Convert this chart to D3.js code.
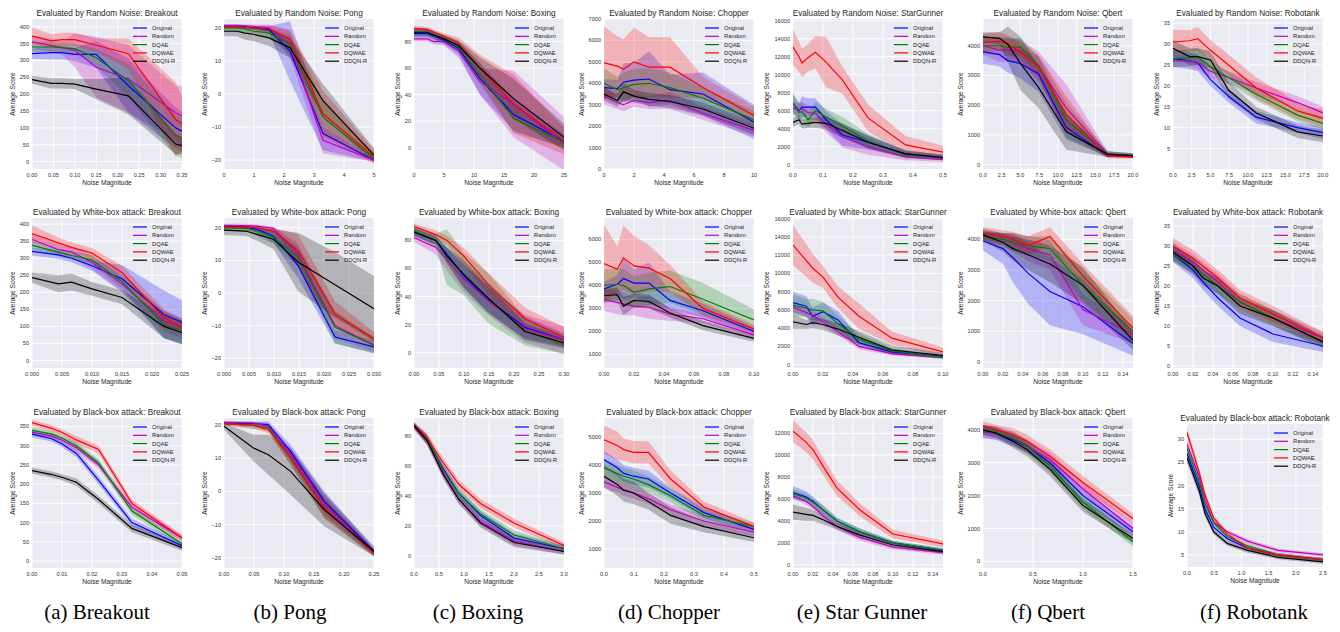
<!DOCTYPE html>
<html>
<head>
<meta charset="utf-8">
<script src="https://cdn.jsdelivr.net/npm/d3@7/dist/d3.min.js"></script>
<style>
  body { margin: 0; background: #fff; }
  svg { display: block; }
  text { font-family: "Liberation Sans", Arial, sans-serif; }
</style>
</head>
<body>
<svg id="chart" width="1340" height="632"></svg>
<script>
// series + labels
const seriesNames = ["Original", "Random", "DQAE", "DQWAE", "DDQN-R"];
const seriesColors = ["#0000ff", "#bf00bf", "#008000", "#ff0000", "#000000"];
const games = ["Breakout", "Pong", "Boxing", "Chopper", "StarGunner", "Qbert", "Robotank"];
const captions = ["(a) Breakout", "(b) Pong", "(c) Boxing", "(d) Chopper", "(e) Star Gunner", "(f) Qbert", "(f) Robotank"];
const attacks = ["Random Noise", "White-box attack", "Black-box attack"];

// ---- tick labels ----
const xTicksNoise = [
  ["0.00", "0.05", "0.10", "0.15", "0.20", "0.25", "0.30", "0.35"],
  ["0", "1", "2", "3", "4", "5"],
  ["0", "5", "10", "15", "20", "25"],
  ["0", "2", "4", "6", "8", "10"],
  ["0.0", "0.1", "0.2", "0.3", "0.4", "0.5"],
  ["0.0", "2.5", "5.0", "7.5", "10.0", "12.5", "15.0", "17.5", "20.0"],
  ["0.0", "2.5", "5.0", "7.5", "10.0", "12.5", "15.0", "17.5", "20.0"]
];
const yTicksNoise = [
  ["0", "50", "100", "150", "200", "250", "300", "350", "400"],
  ["-20", "-10", "0", "10", "20"],
  ["0", "20", "40", "60", "80"],
  ["0", "1000", "2000", "3000", "4000", "5000", "6000", "7000"],
  ["0", "2000", "4000", "6000", "8000", "10000", "12000", "14000", "16000"],
  ["0", "1000", "2000", "3000", "4000"],
  ["5", "10", "15", "20", "25", "30", "35"]
];
const xTicksWhite = [
  ["0.000", "0.005", "0.010", "0.015", "0.020", "0.025"],
  ["0.000", "0.005", "0.010", "0.015", "0.020", "0.025", "0.030"],
  ["0.00", "0.05", "0.10", "0.15", "0.20", "0.25", "0.30"],
  ["0.00", "0.02", "0.04", "0.06", "0.08", "0.10"],
  ["0.00", "0.02", "0.04", "0.06", "0.08", "0.10"],
  ["0.00", "0.02", "0.04", "0.06", "0.08", "0.10", "0.12", "0.14"],
  ["0.00", "0.02", "0.04", "0.06", "0.08", "0.10", "0.12", "0.14"]
];
const yTicksWhite = [
  ["0", "50", "100", "150", "200", "250", "300", "350", "400"],
  ["-20", "-10", "0", "10", "20"],
  ["0", "20", "40", "60", "80"],
  ["1000", "2000", "3000", "4000", "5000", "6000"],
  ["0", "2000", "4000", "6000", "8000", "10000", "12000", "14000", "16000"],
  ["0", "1000", "2000", "3000", "4000"],
  ["0", "5", "10", "15", "20", "25", "30", "35"]
];
const xTicksBlack = [
  ["0.00", "0.01", "0.02", "0.03", "0.04", "0.05"],
  ["0.00", "0.05", "0.10", "0.15", "0.20", "0.25"],
  ["0.0", "0.5", "1.0", "1.5", "2.0", "2.5", "3.0"],
  ["0.0", "0.1", "0.2", "0.3", "0.4", "0.5"],
  ["0.00", "0.02", "0.04", "0.06", "0.08", "0.10", "0.12", "0.14"],
  ["0.0", "0.5", "1.0", "1.5"],
  ["0.0", "0.5", "1.0", "1.5", "2.0", "2.5"]
];
const yTicksBlack = [
  ["0", "50", "100", "150", "200", "250", "300", "350"],
  ["-20", "-10", "0", "10", "20"],
  ["0", "20", "40", "60", "80"],
  ["1000", "2000", "3000", "4000", "5000"],
  ["0", "2000", "4000", "6000", "8000", "10000", "12000"],
  ["0", "1000", "2000", "3000", "4000"],
  ["5", "10", "15", "20", "25", "30"]
];

// ---- row 1: random noise ----  (series order: Original, Random, DQAE, DQWAE, DDQN-R)
const breakoutNoiseX = [0, 0.045, 0.07, 0.10, 0.15, 0.225, 0.335, 0.35];
const breakoutNoiseMean = [
  [320, 323, 323, 318, 318, 225, 100, 90],
  [355, 345, 338, 330, 280, 245, 145, 135],
  [340, 340, 338, 335, 308, 240, 78, 70],
  [372, 358, 362, 362, 345, 320, 125, 112],
  [243, 232, 232, 230, 215, 195, 52, 47]
];
const breakoutNoiseSd = [
  [15, 20, 20, 20, 40, 80, 60, 60],
  [20, 20, 20, 50, 90, 100, 80, 90],
  [15, 15, 15, 15, 25, 50, 60, 60],
  [25, 20, 20, 20, 20, 45, 110, 80],
  [12, 15, 15, 15, 30, 55, 30, 25]
];
const pongNoiseX = [0, 0.44, 0.66, 1.0, 1.5, 2.2, 3.3, 5];
const pongNoiseMean = [
  [20.5, 20.5, 20.4, 20, 19.5, 13, -12, -20],
  [20.7, 20.7, 20.6, 20.5, 20, 15, -14, -20],
  [20, 20, 19.8, 19, 18.5, 15, -7, -19.5],
  [20.3, 20.3, 20.2, 20, 19.8, 16.5, -6, -19],
  [19, 19, 18.5, 18, 17, 14, -2, -18.5]
];
const pongNoiseSd = [
  [0.5, 0.5, 0.5, 0.5, 1, 9, 5, 0.5],
  [0.5, 0.5, 0.5, 0.5, 1, 4, 4, 0.5],
  [1, 1, 1, 1, 1.5, 3, 5, 1],
  [0.5, 0.5, 0.5, 0.5, 1, 3, 7, 2],
  [1.5, 1.5, 2, 2, 2.5, 3, 5, 2]
];
const boxingNoiseX = [0, 2.2, 3.3, 5, 7.4, 11, 16.6, 25];
const boxingNoiseMean = [
  [86, 86, 84, 81, 75, 52, 25, 5],
  [82, 82, 80, 80, 73, 50, 33, 3],
  [87, 87, 85, 82, 76, 55, 22, 4],
  [90, 89, 87, 84, 79, 60, 33, 5],
  [87, 87, 85, 82, 77, 60, 37, 8]
];
const boxingNoiseSd = [
  [3, 3, 3, 3, 5, 12, 12, 5],
  [2, 2, 2, 3, 5, 10, 25, 20],
  [3, 3, 3, 3, 4, 8, 10, 4],
  [2, 2, 2, 2, 4, 10, 22, 10],
  [3, 3, 3, 3, 4, 8, 15, 10]
];
const chopperNoiseX = [0, 0.9, 1.3, 2, 3, 4.4, 6.6, 10];
const chopperNoiseMean = [
  [3800, 3750, 4050, 4150, 4200, 3700, 3500, 2200],
  [3400, 3100, 3000, 3200, 3100, 3200, 2600, 1800],
  [4000, 3700, 3800, 3950, 4000, 3800, 3300, 2300],
  [4950, 4800, 4650, 5000, 4750, 4750, 3800, 2500],
  [3500, 3200, 3600, 3400, 3250, 3150, 2800, 1900]
];
const chopperNoiseSd = [
  [400, 400, 900, 800, 1300, 700, 1000, 800],
  [400, 300, 300, 300, 300, 400, 300, 300],
  [700, 600, 700, 700, 700, 700, 500, 400],
  [1700, 1400, 1400, 1600, 1400, 1400, 500, 400],
  [300, 300, 400, 300, 300, 300, 300, 300]
];
const starNoiseX = [0, 0.02, 0.03, 0.05, 0.075, 0.11, 0.165, 0.25, 0.375, 0.5];
const starNoiseMean = [
  [6800, 6000, 6400, 6400, 6400, 5000, 3300, 2500, 1200, 800],
  [6300, 6100, 6200, 5800, 5700, 4500, 3100, 2000, 900, 600],
  [6800, 5800, 5900, 5000, 6000, 5300, 4300, 2600, 1100, 800],
  [13100, 12000, 11300, 11900, 12500, 11400, 9400, 5200, 2200, 1400],
  [4700, 5000, 4500, 4600, 4700, 4600, 3800, 2500, 1200, 800]
];
const starNoiseSd = [
  [1000, 900, 1200, 1000, 1000, 1000, 1200, 800, 400, 300],
  [700, 700, 800, 800, 800, 900, 1200, 900, 400, 300],
  [1200, 1000, 1000, 900, 1000, 900, 1000, 800, 400, 300],
  [2000, 1700, 1600, 1500, 1800, 2800, 1500, 1500, 1000, 700],
  [500, 500, 500, 500, 600, 700, 800, 700, 400, 300]
];
const qbertNoiseX = [0, 2.2, 3.3, 5, 7.4, 11.1, 16.6, 20];
const qbertNoiseMean = [
  [3800, 3700, 3500, 3400, 3050, 1250, 300, 300],
  [4000, 3850, 3850, 3800, 3300, 1900, 350, 300],
  [4000, 4000, 3950, 3950, 3350, 1500, 350, 300],
  [4100, 4150, 4050, 3800, 3300, 1700, 300, 250],
  [4300, 4250, 4050, 3400, 2600, 1100, 350, 300]
];
const qbertNoiseSd = [
  [400, 400, 400, 500, 600, 400, 50, 50],
  [300, 400, 400, 400, 500, 800, 100, 80],
  [300, 300, 300, 300, 300, 600, 100, 80],
  [300, 300, 300, 300, 400, 600, 100, 50],
  [150, 200, 600, 900, 700, 600, 100, 80]
];
const robotankNoiseX = [0, 2.2, 3.3, 5, 7.4, 11.1, 16.6, 20];
const robotankNoiseMean = [
  [26.5, 26, 25.5, 21.5, 17.5, 12.5, 10, 8.8],
  [26, 26, 25.5, 23.5, 22, 19.5, 16, 13.5],
  [26.5, 26.7, 27, 24.5, 22, 18, 13, 11],
  [30.5, 30.8, 31.3, 28.5, 25, 19.5, 14, 12.2],
  [29, 27, 27, 26.2, 19, 13.5, 9, 8]
];
const robotankNoiseSd = [
  [2, 2, 2, 1.5, 1.5, 1.5, 1.2, 1.5],
  [1.5, 1.5, 1.5, 1.5, 1.5, 1.5, 1.5, 1.5],
  [2, 2, 2, 1.5, 1.5, 1.5, 1.5, 1.5],
  [3, 2.5, 2.8, 2.5, 2.5, 2.5, 2, 2],
  [2, 2, 2, 2, 2, 1.5, 1.5, 1.5]
];

// ---- row 2: white-box attack ----
const breakoutWhiteX = [0, 0.0044, 0.0066, 0.01, 0.015, 0.022, 0.025];
const breakoutWhiteMean = [
  [320, 310, 300, 278, 240, 135, 112],
  [355, 325, 318, 288, 225, 115, 95],
  [338, 318, 308, 295, 232, 105, 88],
  [372, 345, 332, 315, 258, 125, 98],
  [243, 225, 230, 210, 185, 100, 82]
];
const breakoutWhiteSd = [
  [12, 12, 12, 15, 40, 70, 65],
  [15, 15, 15, 20, 20, 30, 30],
  [12, 12, 12, 15, 20, 40, 35],
  [25, 15, 15, 15, 20, 25, 20],
  [15, 25, 25, 20, 20, 35, 35]
];
const pongWhiteX = [0, 0.0044, 0.0066, 0.0099, 0.0148, 0.0222, 0.03];
const pongWhiteMean = [
  [20.5, 20.3, 19.5, 17.5, 8.5, -13.5, -16.5],
  [20.7, 20.7, 20.5, 19.8, 12, -10, -16],
  [20, 19.8, 19, 17, 11, -10.5, -16],
  [20.3, 20.2, 20, 19, 13, -6.5, -14],
  [19.3, 19, 18, 16.5, 9.5, 2.5, -4.8]
];
const pongWhiteSd = [
  [0.5, 0.5, 1, 2, 4, 2, 2],
  [0.5, 0.5, 0.5, 0.5, 3, 4, 2],
  [1, 1, 1.5, 2, 3, 5, 2.5],
  [0.5, 0.5, 0.5, 1, 5, 4, 2],
  [1.5, 1.5, 2, 3, 9, 10, 10]
];
const boxingWhiteX = [0, 0.044, 0.066, 0.099, 0.148, 0.222, 0.3];
const boxingWhiteMean = [
  [86, 80, 70, 55, 38, 18, 9],
  [82, 75, 66, 53, 37, 17, 9],
  [87, 80, 68, 56, 39, 15, 6],
  [90, 84, 80, 69, 49, 24, 11],
  [86, 80, 69, 56, 39, 15, 7]
];
const boxingWhiteSd = [
  [3, 3, 5, 8, 10, 8, 5],
  [3, 5, 8, 10, 10, 10, 10],
  [3, 5, 20, 15, 18, 10, 7],
  [2, 3, 3, 6, 8, 8, 7],
  [3, 3, 6, 10, 10, 6, 4]
];
const chopperWhiteX = [0, 0.0089, 0.013, 0.02, 0.03, 0.044, 0.066, 0.1];
const chopperWhiteMean = [
  [3850, 4050, 4300, 4100, 4100, 3350, 2900, 2000],
  [3400, 3250, 3200, 3100, 3050, 2750, 2550, 1850],
  [4000, 4050, 4000, 3700, 3850, 3950, 3400, 2500],
  [4950, 4700, 5200, 4850, 4750, 4300, 3000, 2100],
  [3550, 3600, 3100, 3350, 3300, 2800, 2250, 1700]
];
const chopperWhiteSd = [
  [300, 400, 900, 600, 900, 400, 300, 200],
  [500, 500, 500, 400, 500, 300, 200, 150],
  [700, 700, 700, 700, 700, 700, 700, 450],
  [1700, 1000, 1400, 1300, 1000, 600, 300, 200],
  [300, 300, 400, 300, 300, 200, 200, 150]
];
const starWhiteX = [0, 0.0089, 0.013, 0.02, 0.03, 0.044, 0.066, 0.1];
const starWhiteMean = [
  [6800, 6400, 5300, 5800, 4900, 2400, 1400, 900],
  [6300, 5700, 5400, 4700, 3600, 2000, 1200, 800],
  [6500, 6200, 6000, 5900, 4500, 2800, 1500, 800],
  [13100, 11400, 10600, 9600, 7400, 5300, 2900, 1400],
  [4700, 4400, 4600, 4400, 3900, 3000, 1600, 1000]
];
const starWhiteSd = [
  [1200, 1100, 1000, 1000, 1000, 500, 300, 200],
  [500, 500, 500, 500, 400, 300, 200, 150],
  [1200, 1000, 1200, 1000, 900, 600, 300, 200],
  [2200, 1800, 1600, 1200, 1200, 1400, 700, 500],
  [800, 500, 600, 600, 700, 700, 500, 300]
];
const qbertWhiteX = [0, 0.02, 0.03, 0.045, 0.067, 0.1, 0.15];
const qbertWhiteMean = [
  [3950, 3700, 3400, 2900, 2300, 1800, 600],
  [4100, 4000, 3900, 3700, 3500, 1700, 900],
  [4100, 4000, 3900, 3800, 3700, 2500, 1000],
  [4200, 4100, 4000, 3800, 4100, 2800, 1100],
  [4150, 3900, 3700, 3500, 3200, 2500, 700]
];
const qbertWhiteSd = [
  [300, 500, 800, 1000, 1100, 900, 400],
  [200, 200, 300, 400, 500, 500, 300],
  [150, 200, 300, 300, 400, 500, 400],
  [200, 200, 250, 300, 300, 400, 400],
  [200, 300, 400, 500, 600, 600, 300]
];
const robotankWhiteX = [0, 0.02, 0.03, 0.045, 0.067, 0.1, 0.15];
const robotankWhiteMean = [
  [28, 24, 21, 17, 12, 8, 5],
  [29, 26, 24, 21, 16, 12, 7],
  [28, 25, 23, 20, 16, 12, 6],
  [30, 27, 25, 22, 17, 13, 7],
  [28.5, 25, 22, 20, 15, 12, 6]
];
const robotankWhiteSd = [
  [2, 2, 2, 2, 2, 2, 1.5],
  [2, 2, 2, 2, 2, 2, 1.5],
  [2, 2, 2, 2, 2, 2, 1.5],
  [2, 2, 2, 2, 2, 2, 1.5],
  [2, 2, 2, 2, 2, 2, 1.5]
];

// ---- row 3: black-box attack ----
const breakoutBlackX = [0, 0.0066, 0.0099, 0.0148, 0.0222, 0.0333, 0.05];
const breakoutBlackMean = [
  [330, 318, 305, 280, 210, 100, 40],
  [335, 325, 315, 295, 250, 140, 60],
  [340, 330, 320, 300, 255, 130, 45],
  [360, 345, 335, 315, 290, 150, 60],
  [235, 225, 218, 205, 160, 85, 35]
];
const breakoutBlackSd = [
  [8, 8, 8, 10, 10, 10, 8],
  [8, 8, 8, 10, 10, 10, 8],
  [8, 8, 8, 10, 10, 10, 8],
  [8, 8, 8, 10, 10, 10, 8],
  [8, 8, 8, 10, 10, 10, 8]
];
const pongBlackX = [0, 0.049, 0.074, 0.111, 0.167, 0.25];
const pongBlackMean = [
  [20.5, 20.3, 20, 12, -3, -18],
  [20.7, 20.5, 19.5, 11, -4, -18.5],
  [20.3, 19.8, 19, 10, -5, -18.5],
  [20.3, 19.8, 18.5, 10, -5, -18.5],
  [19.5, 13, 11, 6, -5.5, -18]
];
const pongBlackSd = [
  [0.5, 0.5, 1, 2, 3, 1],
  [0.5, 0.5, 1, 2, 3, 1],
  [0.5, 1, 1, 2, 3, 1],
  [0.5, 1, 1, 2, 3, 1],
  [1, 4, 6, 7, 5, 1.5]
];
const boxingBlackX = [0, 0.26, 0.39, 0.59, 0.89, 1.33, 2, 3];
const boxingBlackMean = [
  [87, 78, 70, 58, 42, 27, 12, 5],
  [86, 77, 68, 55, 38, 23, 10, 3],
  [87, 78, 70, 57, 42, 28, 14, 5],
  [87, 79, 72, 62, 48, 35, 22, 7],
  [87, 77, 68, 54, 38, 22, 9, 3]
];
const boxingBlackSd = [
  [2, 3, 3, 3, 3, 3, 3, 2],
  [2, 3, 3, 3, 3, 3, 3, 2],
  [2, 3, 3, 3, 3, 3, 3, 2],
  [2, 3, 3, 3, 3, 3, 3, 2],
  [2, 3, 3, 3, 3, 3, 3, 2]
];
const chopperBlackX = [0, 0.044, 0.066, 0.099, 0.148, 0.222, 0.333, 0.5];
const chopperBlackMean = [
  [4200, 3900, 3700, 3600, 3500, 3000, 2300, 1700],
  [3400, 3200, 3100, 3000, 2800, 2400, 2000, 1600],
  [3900, 3700, 3600, 3500, 3300, 2900, 2200, 1800],
  [4900, 4700, 4550, 4450, 4450, 3500, 2500, 1800],
  [3600, 3300, 3100, 3000, 2700, 2200, 1800, 1400]
];
const chopperBlackSd = [
  [300, 300, 300, 300, 300, 200, 200, 150],
  [200, 200, 200, 200, 200, 200, 200, 150],
  [300, 300, 300, 300, 300, 250, 200, 150],
  [500, 500, 400, 400, 400, 300, 200, 150],
  [400, 400, 400, 400, 300, 300, 200, 150]
];
const starBlackX = [0, 0.013, 0.02, 0.03, 0.044, 0.067, 0.1, 0.15];
const starBlackMean = [
  [6600, 6200, 5800, 5000, 4000, 3000, 2000, 1300],
  [6300, 5800, 5300, 4500, 3500, 2500, 1600, 1100],
  [6500, 6100, 5700, 5000, 4000, 3000, 2000, 1300],
  [12200, 11200, 10500, 9000, 7000, 5000, 2800, 1900],
  [4800, 4600, 4500, 4100, 3500, 2700, 1800, 1200]
];
const starBlackSd = [
  [600, 500, 400, 400, 300, 300, 200, 200],
  [300, 300, 300, 300, 300, 300, 200, 200],
  [400, 400, 400, 400, 300, 300, 200, 200],
  [1000, 900, 900, 800, 700, 600, 400, 300],
  [700, 600, 500, 400, 300, 300, 200, 200]
];
const qbertBlackX = [0, 0.13, 0.2, 0.3, 0.44, 0.67, 1.0, 1.5];
const qbertBlackMean = [
  [3950, 3900, 3800, 3700, 3500, 3000, 2000, 900],
  [3950, 3900, 3850, 3750, 3500, 3100, 2200, 1000],
  [4000, 3950, 3850, 3750, 3500, 2900, 1800, 600],
  [4100, 4000, 3950, 3850, 3650, 3200, 2400, 1300],
  [4000, 3900, 3800, 3650, 3400, 2800, 1700, 700]
];
const qbertBlackSd = [
  [200, 200, 200, 200, 200, 200, 200, 150],
  [200, 200, 200, 200, 200, 200, 200, 150],
  [150, 150, 150, 200, 200, 200, 200, 150],
  [150, 150, 150, 200, 200, 200, 200, 150],
  [150, 150, 150, 200, 200, 200, 200, 150]
];
const robotankBlackX = [0, 0.22, 0.33, 0.49, 0.74, 1.11, 1.67, 2.5];
const robotankBlackMean = [
  [27, 20, 15, 11, 8.5, 6.5, 5, 4],
  [29, 22, 17, 12, 10, 8, 6, 5],
  [28, 21, 16, 12, 9, 7, 5, 4],
  [31.5, 23, 18, 13, 9.5, 6.5, 5, 4],
  [26, 19, 14, 10, 7.5, 6, 4.5, 3.5]
];
const robotankBlackSd = [
  [1, 1, 0.8, 0.6, 0.5, 0.5, 0.4, 0.4],
  [1, 1, 0.8, 0.6, 0.5, 0.5, 0.4, 0.4],
  [1, 1, 0.8, 0.6, 0.5, 0.5, 0.4, 0.4],
  [1, 1, 0.8, 0.6, 0.5, 0.5, 0.4, 0.4],
  [1, 1, 0.8, 0.6, 0.5, 0.5, 0.4, 0.4]
];

// ---- panel table (row, col, data, axis ranges) ----
const panels = [
  [0, 0, breakoutNoiseX, breakoutNoiseMean, breakoutNoiseSd, [0, 0.35], [-22, 423]],
  [0, 1, pongNoiseX, pongNoiseMean, pongNoiseSd, [0, 5], [-22.7, 22.7]],
  [0, 2, boxingNoiseX, boxingNoiseMean, boxingNoiseSd, [0, 25], [-16, 97]],
  [0, 3, chopperNoiseX, chopperNoiseMean, chopperNoiseSd, [0, 10], [0, 7000]],
  [0, 4, starNoiseX, starNoiseMean, starNoiseSd, [0, 0.5], [-480, 16200]],
  [0, 5, qbertNoiseX, qbertNoiseMean, qbertNoiseSd, [0, 20], [-150, 4900]],
  [0, 6, robotankNoiseX, robotankNoiseMean, robotankNoiseSd, [0, 20], [0.1, 36]],
  [1, 0, breakoutWhiteX, breakoutWhiteMean, breakoutWhiteSd, [0, 0.025], [-22, 418]],
  [1, 1, pongWhiteX, pongWhiteMean, pongWhiteSd, [0, 0.03], [-23, 23]],
  [1, 2, boxingWhiteX, boxingWhiteMean, boxingWhiteSd, [0, 0.3], [-11, 96]],
  [1, 3, chopperWhiteX, chopperWhiteMean, chopperWhiteSd, [0, 0.1], [410, 6930]],
  [1, 4, starWhiteX, starWhiteMean, starWhiteSd, [0, 0.1], [-370, 16080]],
  [1, 5, qbertWhiteX, qbertWhiteMean, qbertWhiteSd, [0, 0.15], [-200, 4700]],
  [1, 6, robotankWhiteX, robotankWhiteMean, robotankWhiteSd, [0, 0.15], [-0.5, 37]],
  [2, 0, breakoutBlackX, breakoutBlackMean, breakoutBlackSd, [0, 0.05], [-18, 372]],
  [2, 1, pongBlackX, pongBlackMean, pongBlackSd, [0, 0.25], [-23, 22]],
  [2, 2, boxingBlackX, boxingBlackMean, boxingBlackSd, [0, 3], [-8, 92]],
  [2, 3, chopperBlackX, chopperBlackMean, chopperBlackSd, [0, 0.5], [320, 5680]],
  [2, 4, starBlackX, starBlackMean, starBlackSd, [0, 0.15], [-300, 13400]],
  [2, 5, qbertBlackX, qbertBlackMean, qbertBlackSd, [0, 1.5], [-200, 4360]],
  [2, 6, robotankBlackX, robotankBlackMean, robotankBlackSd, [0, 2.5], [2.4, 33.3]]
];
const xTickRows = [xTicksNoise, xTicksWhite, xTicksBlack];
const yTickRows = [yTicksNoise, yTicksWhite, yTicksBlack];

// layout
const colX = [32, 224, 414, 604, 793, 983, 1173];
const rowY = [19, 218, 418];
const capX = [97, 290, 478, 669, 862, 1048, 1254];

const svg = d3.select("#chart");
const minus = s => s.replace("-", "\u2212");

panels.forEach(([row, col, xs, means, sds, xDom, yDom], k) => {
  // the last black-box panel sits a little lower and narrower in the source figure
  const odd = row === 2 && col === 6;
  const W = odd ? 136 : 150, H = odd ? 143 : 150;
  const left = odd ? 1187 : colX[col], top = odd ? 424 : rowY[row];

  const g = svg.append("g").attr("transform", `translate(${left},${top})`);
  const x = d3.scaleLinear().domain(xDom).range([0, W]);
  const y = d3.scaleLinear().domain(yDom).range([H, 0]);
  const xt = xTickRows[row][col], yt = yTickRows[row][col];

  g.append("rect").attr("width", W).attr("height", H).attr("fill", "#eaeaf2");

  // white grid
  g.selectAll("line.gx").data(xt).join("line").attr("class", "gx")
    .attr("x1", d => x(+d)).attr("x2", d => x(+d)).attr("y1", 0).attr("y2", H)
    .attr("stroke", "#fff").attr("stroke-width", 0.9);
  g.selectAll("line.gy").data(yt).join("line").attr("class", "gy")
    .attr("y1", d => y(+d)).attr("y2", d => y(+d)).attr("x1", 0).attr("x2", W)
    .attr("stroke", "#fff").attr("stroke-width", 0.9);

  g.append("clipPath").attr("id", "clip" + k)
    .append("rect").attr("width", W).attr("height", H);
  const plot = g.append("g").attr("clip-path", `url(#clip${k})`);

  means.forEach((m, i) => {
    const area = d3.area()
      .x((d, j) => x(xs[j]))
      .y0((d, j) => y(d - sds[i][j]))
      .y1((d, j) => y(d + sds[i][j]));
    plot.append("path").attr("d", area(m))
      .attr("fill", seriesColors[i]).attr("fill-opacity", 0.24);
  });
  means.forEach((m, i) => {
    const line = d3.line().x((d, j) => x(xs[j])).y(d => y(d));
    plot.append("path").attr("d", line(m))
      .attr("fill", "none").attr("stroke", seriesColors[i]).attr("stroke-width", 1.2);
  });

  // tick labels
  g.selectAll("text.tx").data(xt).join("text").attr("class", "tx")
    .attr("x", d => x(+d)).attr("y", H + 8)
    .attr("text-anchor", "middle").attr("font-size", 5.6).attr("fill", "#333")
    .text(d => minus(d));
  const ylab = g.selectAll("text.ty").data(yt).join("text").attr("class", "ty")
    .attr("x", -3).attr("y", d => y(+d) + 2)
    .attr("text-anchor", "end").attr("font-size", 5.6).attr("fill", "#333")
    .text(d => minus(d));
  let maxW = 0;
  ylab.each(function () { maxW = Math.max(maxW, this.getComputedTextLength()); });

  // axis titles
  g.append("text").attr("x", W / 2).attr("y", H + 16)
    .attr("text-anchor", "middle").attr("font-size", 6.6).attr("fill", "#262626")
    .text("Noise Magnitude");
  g.append("text")
    .attr("transform", `translate(${-3 - maxW - 5},${H / 2}) rotate(-90)`)
    .attr("text-anchor", "middle").attr("font-size", 6.6).attr("fill", "#262626")
    .text("Average Score");
  g.append("text").attr("x", W / 2).attr("y", -3.5)
    .attr("text-anchor", "middle").attr("font-size", 8.2).attr("fill", "#262626")
    .text(`Evaluated by ${attacks[row]}: ${games[col]}`);

  // legend
  const leg = g.append("g").attr("transform", `translate(${W - 49},9)`);
  seriesNames.forEach((name, i) => {
    leg.append("line").attr("x1", 0).attr("x2", 14).attr("y1", i * 8.3).attr("y2", i * 8.3)
      .attr("stroke", seriesColors[i]).attr("stroke-width", 1.2);
    leg.append("text").attr("x", 19).attr("y", i * 8.3 + 2)
      .attr("font-size", 5.8).attr("fill", "#262626").text(name);
  });
});

// captions
svg.selectAll("text.cap").data(captions).join("text").attr("class", "cap")
  .attr("x", (d, i) => capX[i]).attr("y", 619)
  .attr("text-anchor", "middle")
  .style("font-family", '"Liberation Serif", "Times New Roman", serif')
  .attr("font-size", 21).attr("fill", "#000")
  .text(d => d);
</script>
</body>
</html>
